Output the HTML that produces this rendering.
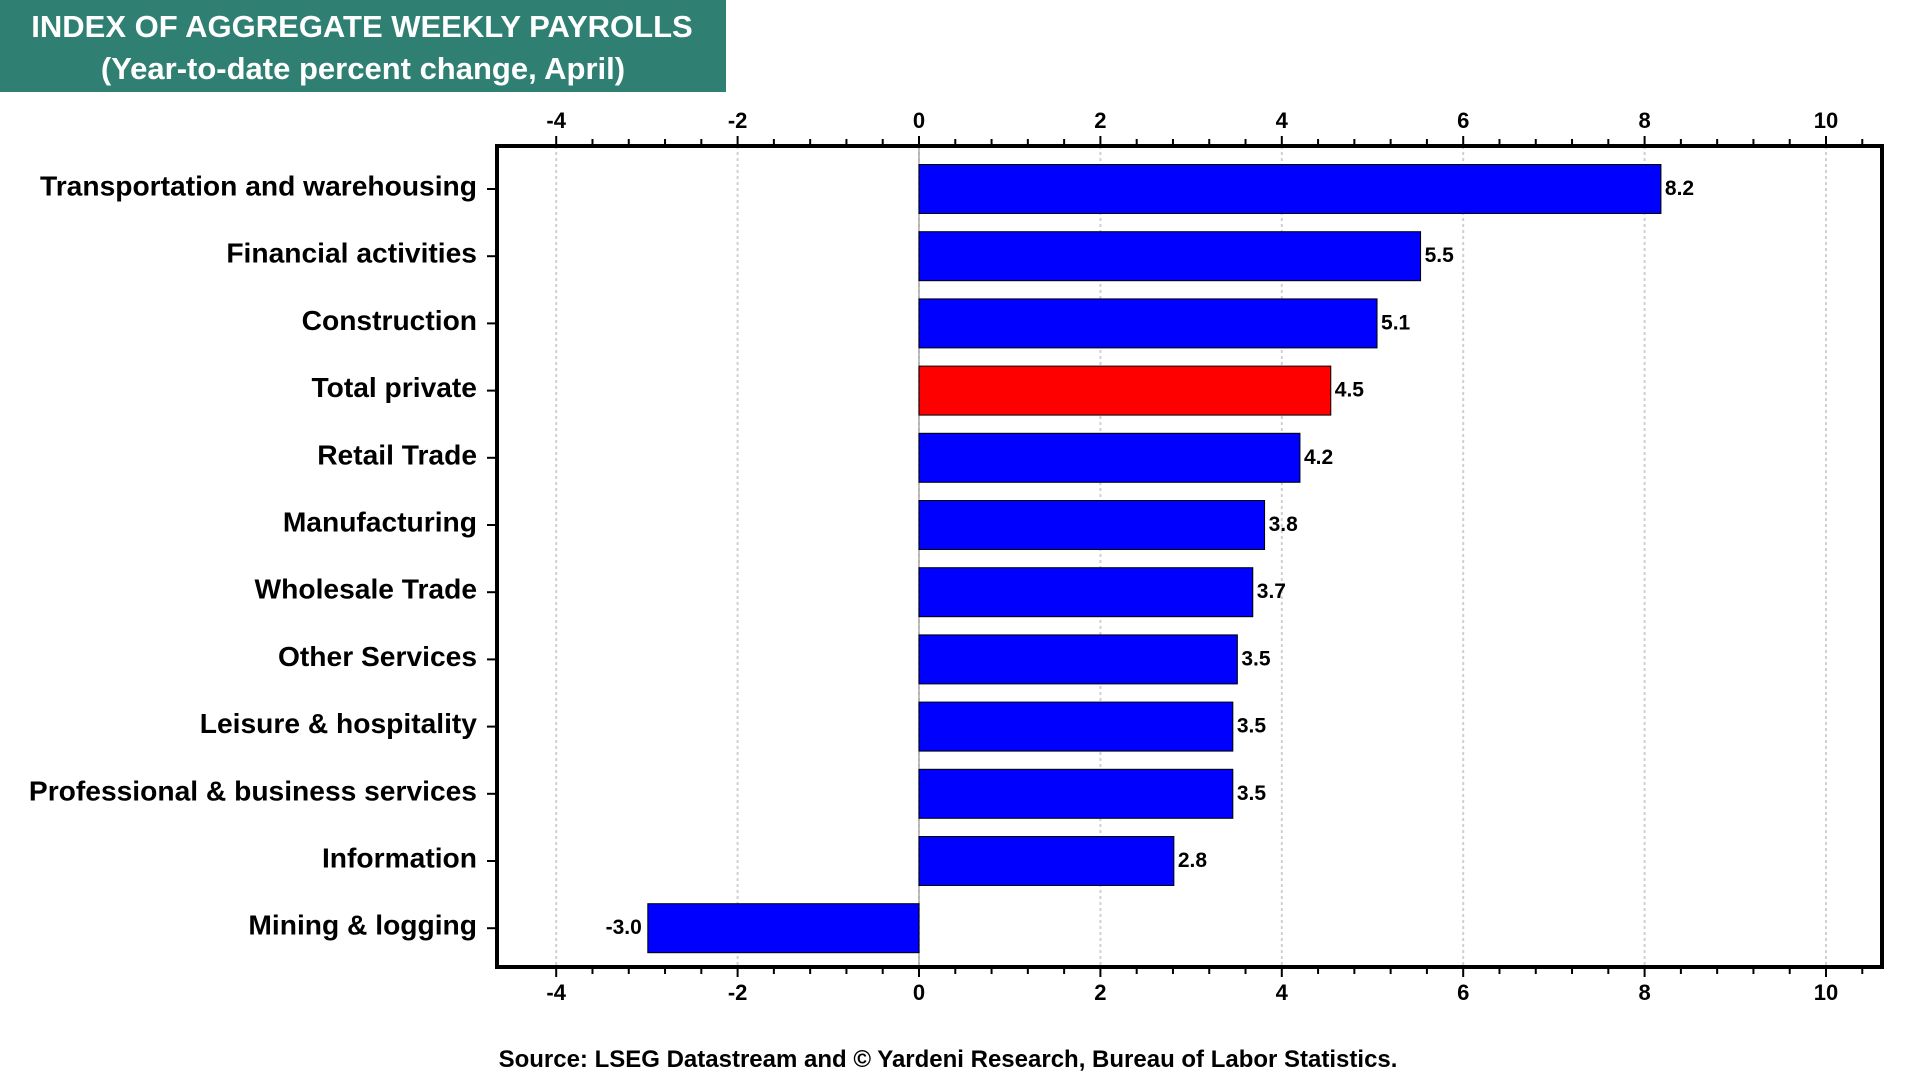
<!DOCTYPE html>
<html><head><meta charset="utf-8"><style>
html,body{margin:0;padding:0;background:#fff;}
svg{display:block;font-family:"Liberation Sans",Arial,sans-serif;}
</style></head><body>
<svg id="chart" width="1920" height="1080" viewBox="0 0 1920 1080" xmlns="http://www.w3.org/2000/svg">
<rect x="0" y="0" width="726" height="92" fill="#2f7f72"/>
<text x="362" y="37" text-anchor="middle" fill="#fff" font-weight="bold" font-size="31">INDEX OF AGGREGATE WEEKLY PAYROLLS</text>
<text x="363" y="79" text-anchor="middle" fill="#fff" font-weight="bold" font-size="31">(Year-to-date percent change, April)</text>
<g id="grid"></g>
<g id="bars"></g>
<g id="axes"></g>
<text x="948" y="1067" text-anchor="middle" font-weight="bold" font-size="24" fill="#000">Source: LSEG Datastream and © Yardeni Research, Bureau of Labor Statistics.</text>
</svg>
<script>
const categories = ["Transportation and warehousing","Financial activities","Construction","Total private","Retail Trade","Manufacturing","Wholesale Trade","Other Services","Leisure & hospitality","Professional & business services","Information","Mining & logging"];
const values = [8.18,5.53,5.05,4.54,4.2,3.81,3.68,3.51,3.46,3.46,2.81,-2.99];
const valueLabels = ["8.2","5.5","5.1","4.5","4.2","3.8","3.7","3.5","3.5","3.5","2.8","-3.0"];
const highlight = ["Total private"];
const xTicks = [-4,-2,0,2,4,6,8,10];
const xTickLabels = ["-4","-2","0","2","4","6","8","10"];

const NS = "http://www.w3.org/2000/svg";
const L = 497, R = 1882, T = 146, B = 967;
const zeroX = 919, pxPerUnit = 90.7;
function xs(v){ return zeroX + v * pxPerUnit; }
const rowStart = 189, rowStep = 67.2, barH = 49;
function ys(i){ return rowStart + i * rowStep; }
function mk(tag, attrs, parent){ const e = document.createElementNS(NS, tag); for (const k in attrs) e.setAttribute(k, attrs[k]); parent.appendChild(e); return e; }

const grid = document.getElementById('grid');
const bars = document.getElementById('bars');
const axes = document.getElementById('axes');

xTicks.forEach((t, i) => {
  const g = mk('line', {x1: xs(t), x2: xs(t), y1: T, y2: B, stroke: '#d0d0d0', 'stroke-width': 2, 'stroke-dasharray': '3,3'}, grid);
  
  
  const top = mk('text', {x: xs(t), y: 128, 'text-anchor': 'middle', 'font-size': 22, 'font-weight': 'bold'}, axes);
  top.textContent = xTickLabels[i];
  
  
  const bot = mk('text', {x: xs(t), y: 1000, 'text-anchor': 'middle', 'font-size': 22, 'font-weight': 'bold'}, axes);
  bot.textContent = xTickLabels[i];
  
  
});

for (let k = -10; k <= 26; k++) {
  const vv = k * 0.4;
  const major = k % 5 === 0;
  const len = major ? 8 : 5;
  const x = xs(vv);
  const tt = mk('line', {x1: x, x2: x, y1: T - 2 - len, y2: T, stroke: '#000', 'stroke-width': 2}, axes);
  
  
  const tb = mk('line', {x1: x, x2: x, y1: B, y2: B + 2 + len, stroke: '#000', 'stroke-width': 2}, axes);
  
  
}

categories.forEach((c, i) => {
  const v = values[i];
  const y = ys(i);
  const x0 = xs(Math.min(0, v)), w = Math.abs(xs(v) - xs(0));
  const r = mk('rect', {x: x0, y: y - barH / 2, width: w, height: barH, fill: highlight.includes(c) ? '#ff0000' : '#0000ff', stroke: '#000', 'stroke-width': 1}, bars);
  
  
  const lbl = mk('text', {x: v >= 0 ? xs(v) + 4 : xs(v) - 6, y: y + 6, 'text-anchor': v >= 0 ? 'start' : 'end', 'font-size': 21, 'font-weight': 'bold'}, bars);
  lbl.textContent = valueLabels[i];
  
  
  const cl = mk('text', {x: 477, y: y + 6.5, 'text-anchor': 'end', 'font-size': 28.2, 'font-weight': 'bold'}, axes);
  cl.textContent = c;
  
  
  const tk = mk('line', {x1: 487, x2: L, y1: y, y2: y, stroke: '#000', 'stroke-width': 2}, axes);
  
  
});

const zl = mk('line', {x1: xs(0), x2: xs(0), y1: T, y2: B, stroke: '#aaa', 'stroke-width': 1.5}, grid);



const frame = mk('rect', {x: L, y: T, width: R - L, height: B - T, fill: 'none', stroke: '#000', 'stroke-width': 4}, axes);


</script>
</body></html>
